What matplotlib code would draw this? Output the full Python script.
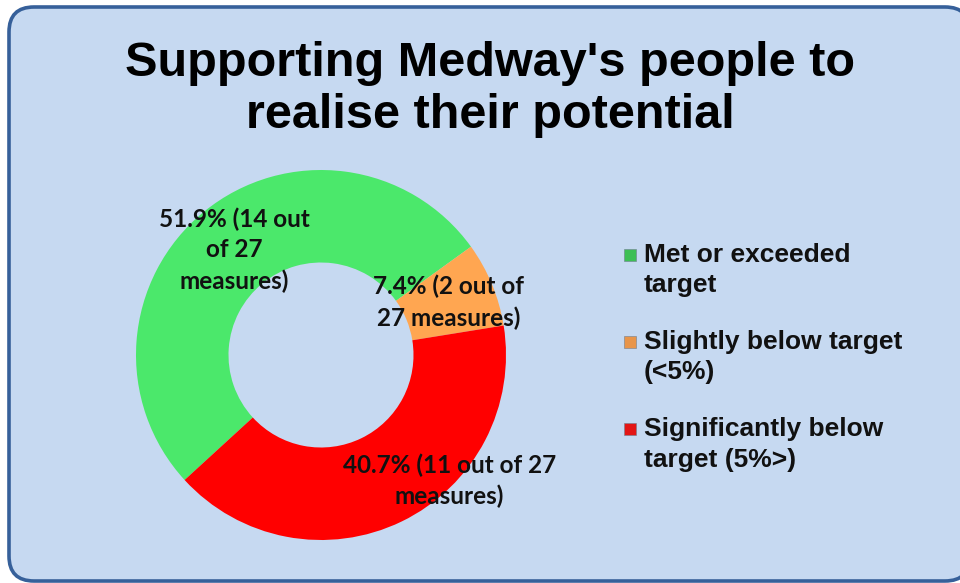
import matplotlib
matplotlib.use("Agg")
import matplotlib.pyplot as plt
import matplotlib.transforms as mtransforms
from matplotlib.patches import FancyBboxPatch, Rectangle
from matplotlib.legend_handler import HandlerPatch

# data
categories = ["Met or exceeded\ntarget",
              "Slightly below target\n(<5%)",
              "Significantly below\ntarget (5%>)"]
measures = [14, 2, 11]
total = 27
slice_labels = ["51.9% (14 out\nof 27\nmeasures)",
                "7.4% (2 out of\n27 measures)",
                "40.7% (11 out of 27\nmeasures)"]
colors = ["#4BE86B", "#FFA651", "#FF0000"]
legend_colors = ["#3DBF55", "#E8954A", "#E31515"]

# label centres in pie units
label_pos = [(-0.47, 0.568), (0.69, 0.285), (0.695, -0.68)]


class TopSquare(HandlerPatch):
    # small square aligned with the first text line
    def create_artists(self, legend, orig_handle, xdescent, ydescent,
                       width, height, fontsize, trans):
        s = 0.46 * fontsize
        cy = -ydescent + height / 2 + 0.59 * fontsize
        p = Rectangle((-xdescent + width - s, cy - s / 2), s, s,
                      facecolor=orig_handle.get_facecolor(),
                      edgecolor="#6f7f8f", linewidth=0.4)
        p.set_transform(trans)
        return [p]


W, H = 960, 583
fig = plt.figure(figsize=(W / 100, H / 100), dpi=100)
fig.patch.set_facecolor("white")

box = FancyBboxPatch((9, H - 581), 961, 574,
                     boxstyle="round,pad=0,rounding_size=25",
                     facecolor="#C6D9F1", edgecolor="#36609A",
                     linewidth=2.6, transform=mtransforms.IdentityTransform(),
                     zorder=-1)
fig.add_artist(box)

fig.text(490 / W, 1 - 63 / H, "Supporting Medway's people to",
         ha="center", va="center", fontsize=35, fontweight="bold",
         family="Liberation Sans")
fig.text(490 / W, 1 - 116 / H, "realise their potential",
         ha="center", va="center", fontsize=35, fontweight="bold",
         family="Liberation Sans")

cx, cy, R = 321, 355, 185
ax = fig.add_axes([(cx - R) / W, (H - cy - R) / H, 2 * R / W, 2 * R / H])
ax.patch.set_visible(False)

wedges, _ = ax.pie(measures, colors=colors, startangle=222.5,
                   counterclock=False, radius=1,
                   wedgeprops=dict(width=0.5, edgecolor="none"))
ax.set_xlim(-1, 1)
ax.set_ylim(-1, 1)
ax.axis("off")

for txt, (x, y) in zip(slice_labels, label_pos):
    ax.text(x, y, txt, ha="center", va="center", fontsize=17.5,
            fontweight="bold", family="Lato", color="#111111",
            linespacing=1.4)

handles = [Rectangle((0, 0), 1, 1, facecolor=c) for c in legend_colors]
leg = fig.legend(handles, categories, loc="upper left",
                 bbox_to_anchor=(598 / W, 1 - 219 / H),
                 frameon=False,
                 prop=dict(family="Liberation Sans", weight="bold", size=19),
                 handlelength=0.53, handletextpad=0.3, labelspacing=1.25,
                 handler_map={Rectangle: TopSquare()})
for t in leg.get_texts():
    t.set_linespacing(1.33)
    t.set_color("#111111")

fig.savefig("out.png", dpi=100)
